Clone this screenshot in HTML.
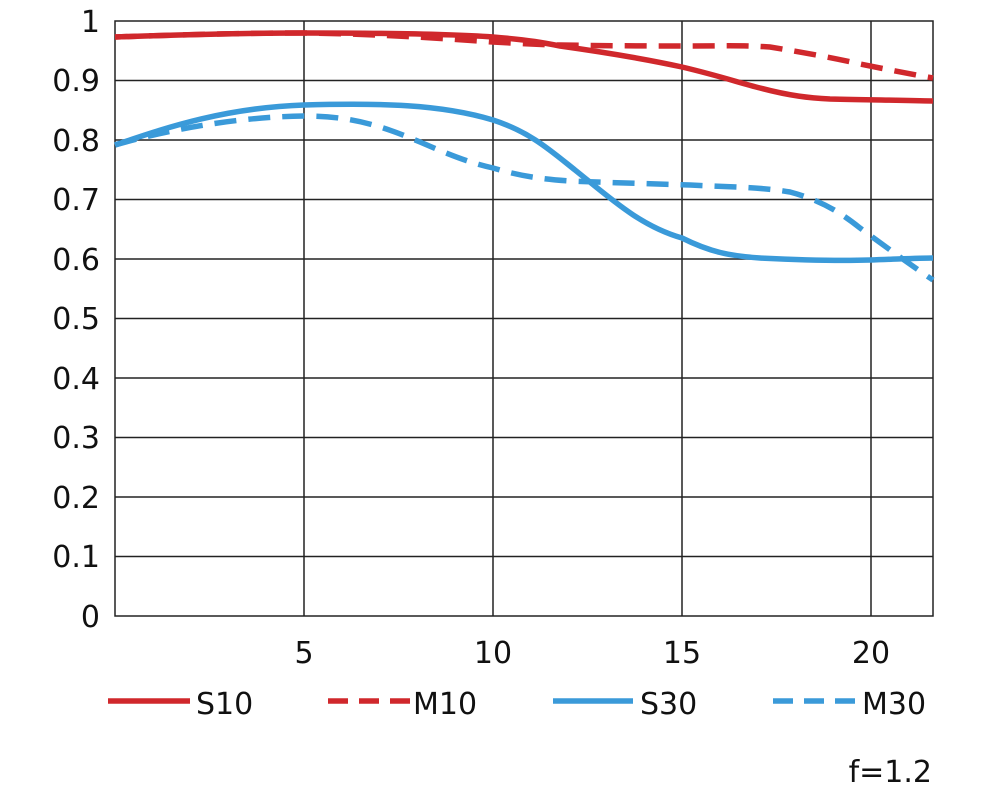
<!DOCTYPE html>
<html><head><meta charset="utf-8"><style>
html,body{margin:0;padding:0;background:#fff;}
svg text{font-family:"DejaVu Sans","Liberation Sans",sans-serif;fill:#111;}
</style></head><body>
<svg width="1000" height="789" viewBox="0 0 1000 789" xmlns="http://www.w3.org/2000/svg">
<g stroke="#222" stroke-width="1.5" fill="none">
<rect x="115" y="21" width="818" height="595"/>
<line x1="115" y1="80.5" x2="933" y2="80.5"/>
<line x1="115" y1="140" x2="933" y2="140"/>
<line x1="115" y1="199.5" x2="933" y2="199.5"/>
<line x1="115" y1="259" x2="933" y2="259"/>
<line x1="115" y1="318.5" x2="933" y2="318.5"/>
<line x1="115" y1="378" x2="933" y2="378"/>
<line x1="115" y1="437.5" x2="933" y2="437.5"/>
<line x1="115" y1="497" x2="933" y2="497"/>
<line x1="115" y1="556.5" x2="933" y2="556.5"/>
<line x1="304" y1="21" x2="304" y2="616"/>
<line x1="493" y1="21" x2="493" y2="616"/>
<line x1="682" y1="21" x2="682" y2="616"/>
<line x1="871" y1="21" x2="871" y2="616"/>
</g>
<g font-size="30" text-anchor="end">
<text x="100" y="32">1</text>
<text x="100" y="91">0.9</text>
<text x="100" y="151">0.8</text>
<text x="100" y="210">0.7</text>
<text x="100" y="270">0.6</text>
<text x="100" y="329">0.5</text>
<text x="100" y="389">0.4</text>
<text x="100" y="448">0.3</text>
<text x="100" y="508">0.2</text>
<text x="100" y="567">0.1</text>
<text x="100" y="627">0</text>
</g>
<g font-size="30" text-anchor="middle">
<text x="304" y="663">5</text>
<text x="493" y="663">10</text>
<text x="682" y="663">15</text>
<text x="871" y="663">20</text>
</g>
<g fill="none" stroke-width="5.5">
<path stroke="#d0282c" d="M115,37 C200,34 260,33 304,33 C380,33 450,34 493,37 C530,40 545,43 560,46 C610,53 650,60 682,67 C720,76 740,83 760,88 C790,96 810,98 830,99 C870,100 900,100 933,101"/>
<path stroke="#d0282c" stroke-dasharray="22,12" d="M115,37 C200,34 260,33 304,33 C380,34 450,39 493,42 C530,44 545,45 560,45 C620,46 660,46 682,46 C720,46 740,45 770,47 C800,52 830,57 860,64 C890,70 915,75 933,78"/>
<path stroke="#3a9ad9" d="M115,145 C160,130 220,108 304,105 C380,103 440,104 493,120 C530,132 550,150 575,170 C610,198 640,226 682,238 C710,252 730,256 760,258 C800,260 840,261 870,260 C900,259 920,258 933,258"/>
<path stroke="#3a9ad9" stroke-dasharray="22,12" d="M115,145 C160,132 230,117 304,116 C350,116 380,125 420,142 C450,155 470,163 493,168 C520,176 540,179 570,181 C620,183 660,184 690,185 C730,187 760,187 790,192 C820,200 840,212 860,228 C890,250 915,268 933,280"/>
</g>
<g stroke-width="5.5">
<line x1="108" y1="701" x2="190" y2="701" stroke="#d0282c"/>
<line x1="328" y1="701" x2="410" y2="701" stroke="#d0282c" stroke-dasharray="20,11"/>
<line x1="553" y1="701" x2="633" y2="701" stroke="#3a9ad9"/>
<line x1="773" y1="701" x2="855" y2="701" stroke="#3a9ad9" stroke-dasharray="20,11"/>
</g>
<g font-size="30">
<text x="196" y="714">S10</text>
<text x="413" y="714">M10</text>
<text x="640" y="714">S30</text>
<text x="862" y="714">M30</text>
<text x="932" y="782" text-anchor="end">f=1.2</text>
</g>
</svg>
</body></html>
